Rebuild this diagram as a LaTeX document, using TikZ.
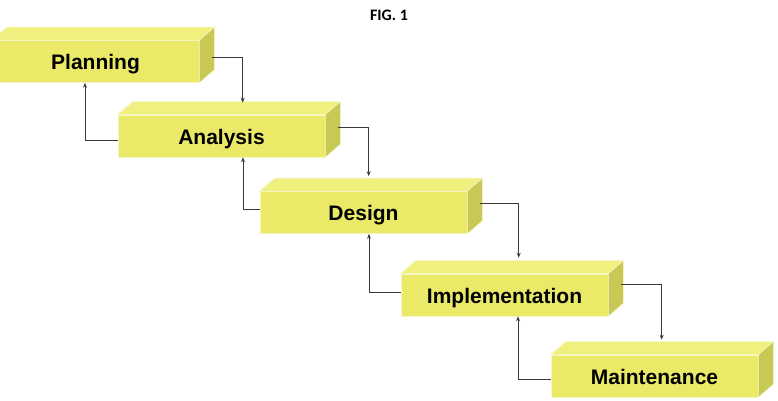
\documentclass[tikz,border=0pt]{standalone}
\usepackage{fontspec}
\setmainfont{Liberation Sans}
\newfontfamily\capfont{Carlito}
\usepackage{xcolor}
\usepackage{tikz}
\usetikzlibrary{arrows.meta,calc}

\definecolor{slabfront}{HTML}{EAEA68}
\definecolor{slabtop}{HTML}{F0F07E}
\definecolor{slabside}{HTML}{C8C854}
\definecolor{slabedge}{HTML}{F6F6C4}
\definecolor{linkgray}{HTML}{3A3A3A}

\begin{document}
\begin{tikzpicture}[x=1pt,y=1pt,
  slab/.style={rectangle, fill=slabfront, draw=slabedge, line width=0.6pt,
    minimum width=207pt, minimum height=42pt, inner sep=0pt,
    text height=17pt, text depth=1pt,
    font=\fontsize{21}{24}\selectfont\bfseries},
  link/.style={-{Stealth[length=5pt,width=4pt]}, draw=linkgray, line width=1pt},
]
\useasboundingbox (0,0) rectangle (778,400);
\node[font=\capfont\bfseries\fontsize{16}{18}\selectfont] (fig) at (389,385) {FIG. 1};
\node[slab] (plan) at (95.5,338.5) {Planning};
\node[slab] (ana) at (221.5,264) {Analysis};
\node[slab] (des) at (363.5,187.5) {Design};
\node[slab] (impl) at (504.5,105) {Implementation};
\node[slab] (maint) at (654.5,24) {Maintenance};
% top and side faces of each slab
\foreach \b in {plan,ana,des,impl,maint} {
  \filldraw[fill=slabtop, draw=slabedge, line width=0.6pt] (\b.north west) -- ++(15,13)
    -- ($(\b.north east)+(15,13)$) -- (\b.north east) -- cycle;
  \filldraw[fill=slabside, draw=slabedge, line width=0.6pt] (\b.north east) -- ++(15,13)
    -- ($(\b.south east)+(15,13)$) -- (\b.south east) -- cycle;
}
% forward steps
\draw[link] ($(plan.east)+(13,4.5)$) -| ($(ana.north west)+(125,12)$);
\draw[link] ($(ana.east)+(13,9)$) -| ($(des.north west)+(109,15)$);
\draw[link] ($(des.east)+(13,9.5)$) -| ($(impl.north west)+(118,16)$);
\draw[link] ($(impl.east)+(13,11)$) -| ($(maint.north west)+(111,15)$);
% feedback steps
\draw[link] ($(ana.west)+(0,-4)$) -| ($(plan.south)+(-10.5,0)$);
\draw[link] ($(des.west)+(0,3.5)$) -| ($(ana.south)+(21.5,0)$);
\draw[link] ($(impl.west)+(0,3)$) -| ($(des.south)+(5.5,0)$);
\draw[link] ($(maint.west)+(0,-3)$) -| ($(impl.south)+(13.5,0)$);
\end{tikzpicture}
\end{document}
